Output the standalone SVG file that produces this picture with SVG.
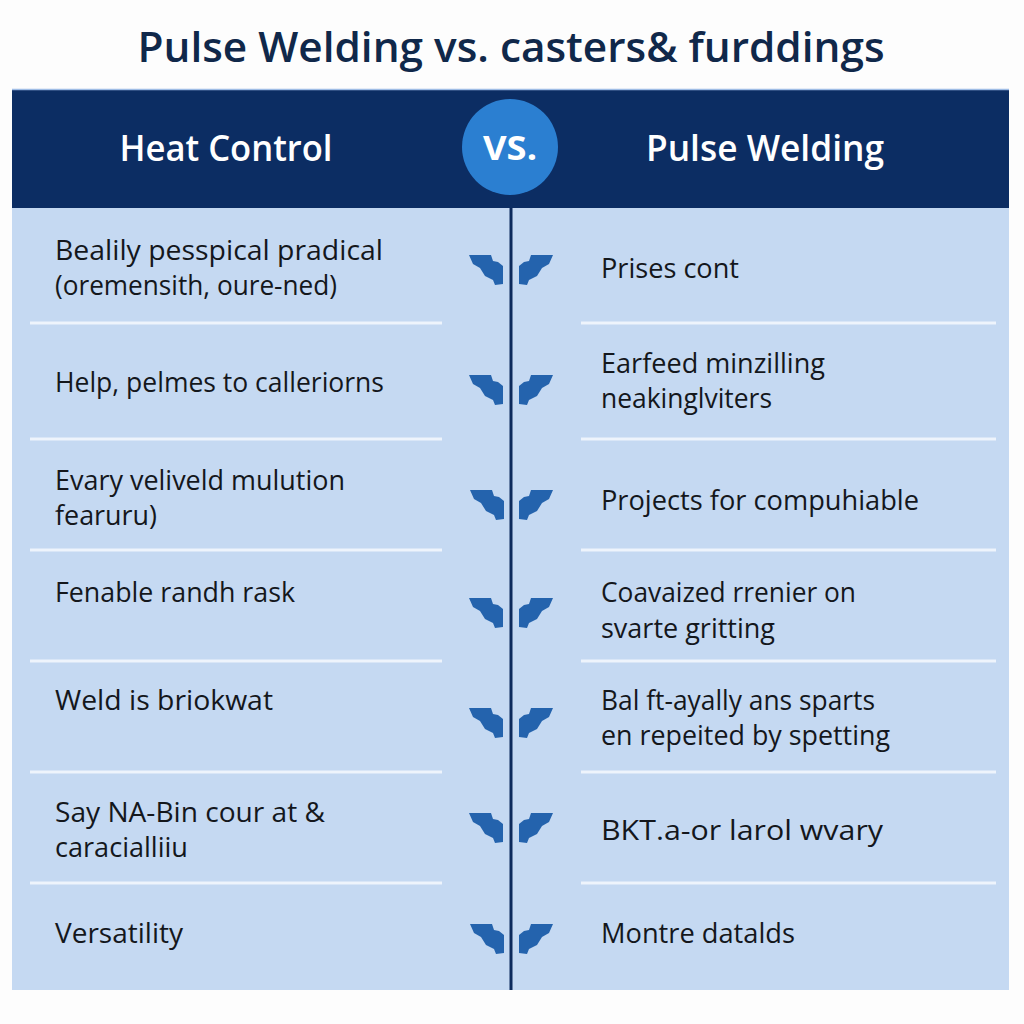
<svg xmlns="http://www.w3.org/2000/svg" xmlns:xlink="http://www.w3.org/1999/xlink" width="1024" height="1024" viewBox="0 0 1024 1024">
  <style>
    .title { font-family: "Open Sans", "Noto Sans", "Liberation Sans", sans-serif; font-size: 42px; font-weight: 600; fill: #10284a; }
    .head { font-family: "Open Sans", "Noto Sans", "Liberation Sans", sans-serif; font-size: 36px; font-weight: 600; fill: #ffffff; }
    .vs { font-family: "Open Sans", "Noto Sans", "Liberation Sans", sans-serif; font-size: 34px; font-weight: 700; fill: #ffffff; }
    .cell { font-family: "Open Sans", "Noto Sans", "Liberation Sans", sans-serif; font-size: 27px; fill: #14171c; }
    .sep { stroke: #eef4fc; stroke-width: 3; }
    .icon { fill: #2463ad; }
  </style>
  <defs>
    <path id="arrL" d="M0,0 L22,0 L24,6 L29,7 L34,11 L34,29 L26,30 L24,25 L16,21 L11,13 L4,9 Z"/>
  </defs>
  <rect x="0" y="0" width="1024" height="1024" fill="#fdfdfd"/>
  <text class="title" x="511" y="62" text-anchor="middle" textLength="747" lengthAdjust="spacingAndGlyphs">Pulse Welding vs. casters&amp; furddings</text>

  <g id="table">
    <rect x="12" y="89" width="997" height="119" fill="#0c2d63"/>
    <line x1="12" y1="89.5" x2="1009" y2="89.5" stroke="#9fbde6" stroke-width="1.5"/>
    <rect x="12" y="208" width="997" height="782" fill="#c5d9f2"/>
  </g>

  <g id="header-left"><text class="head" x="226" y="161" text-anchor="middle" textLength="213" lengthAdjust="spacingAndGlyphs">Heat Control</text></g>
  <g id="header-right"><text class="head" x="765" y="161" text-anchor="middle" textLength="238" lengthAdjust="spacingAndGlyphs">Pulse Welding</text></g>

  <g id="connectors">
    <line x1="511" y1="208" x2="511" y2="990" stroke="#0d2a5c" stroke-width="3"/>
    <g class="sep">
      <line x1="30" y1="323" x2="442" y2="323"/><line x1="581" y1="323" x2="996" y2="323"/>
      <line x1="30" y1="439" x2="442" y2="439"/><line x1="581" y1="439" x2="996" y2="439"/>
      <line x1="30" y1="550" x2="442" y2="550"/><line x1="581" y1="550" x2="996" y2="550"/>
      <line x1="30" y1="661" x2="442" y2="661"/><line x1="581" y1="661" x2="996" y2="661"/>
      <line x1="30" y1="772" x2="442" y2="772"/><line x1="581" y1="772" x2="996" y2="772"/>
      <line x1="30" y1="883" x2="442" y2="883"/><line x1="581" y1="883" x2="996" y2="883"/>
    </g>
    <g class="icon">
      <use xlink:href="#arrL" transform="translate(469,255)"/>
      <use xlink:href="#arrL" transform="translate(553,255) scale(-1,1)"/>
      <use xlink:href="#arrL" transform="translate(469,375)"/>
      <use xlink:href="#arrL" transform="translate(553,375) scale(-1,1)"/>
      <use xlink:href="#arrL" transform="translate(470,490)"/>
      <use xlink:href="#arrL" transform="translate(553,490) scale(-1,1)"/>
      <use xlink:href="#arrL" transform="translate(469,598)"/>
      <use xlink:href="#arrL" transform="translate(553,598) scale(-1,1)"/>
      <use xlink:href="#arrL" transform="translate(469,708)"/>
      <use xlink:href="#arrL" transform="translate(553,708) scale(-1,1)"/>
      <use xlink:href="#arrL" transform="translate(469,813)"/>
      <use xlink:href="#arrL" transform="translate(553,813) scale(-1,1)"/>
      <use xlink:href="#arrL" transform="translate(470,924)"/>
      <use xlink:href="#arrL" transform="translate(553,924) scale(-1,1)"/>
    </g>
  </g>

  <g id="vs-badge">
    <circle cx="510" cy="147" r="48" fill="#2b7fd1"/>
    <text class="vs" x="510" y="160" text-anchor="middle" textLength="54" lengthAdjust="spacingAndGlyphs">VS.</text>
  </g>

  <g id="row1-left"><text class="cell" x="55" y="260" textLength="328" lengthAdjust="spacingAndGlyphs">Bealily pesspical pradical</text><text class="cell" x="55" y="295" textLength="282" lengthAdjust="spacingAndGlyphs">(oremensith, oure-ned)</text></g>
  <g id="row1-right"><text class="cell" x="601" y="278" textLength="138" lengthAdjust="spacingAndGlyphs">Prises cont</text></g>
  <g id="row2-left"><text class="cell" x="55" y="392" textLength="329" lengthAdjust="spacingAndGlyphs">Help, pelmes to calleriorns</text></g>
  <g id="row2-right"><text class="cell" x="601" y="373" textLength="224" lengthAdjust="spacingAndGlyphs">Earfeed minzilling</text><text class="cell" x="601" y="408" textLength="171" lengthAdjust="spacingAndGlyphs">neakinglviters</text></g>
  <g id="row3-left"><text class="cell" x="55" y="490" textLength="290" lengthAdjust="spacingAndGlyphs">Evary veliveld mulution</text><text class="cell" x="55" y="525" textLength="102" lengthAdjust="spacingAndGlyphs">fearuru)</text></g>
  <g id="row3-right"><text class="cell" x="601" y="510" textLength="318" lengthAdjust="spacingAndGlyphs">Projects for compuhiable</text></g>
  <g id="row4-left"><text class="cell" x="55" y="602" textLength="240" lengthAdjust="spacingAndGlyphs">Fenable randh rask</text></g>
  <g id="row4-right"><text class="cell" x="601" y="602" textLength="255" lengthAdjust="spacingAndGlyphs">Coavaized rrenier on</text><text class="cell" x="601" y="638" textLength="174" lengthAdjust="spacingAndGlyphs">svarte gritting</text></g>
  <g id="row5-left"><text class="cell" x="55" y="710" textLength="218" lengthAdjust="spacingAndGlyphs">Weld is briokwat</text></g>
  <g id="row5-right"><text class="cell" x="601" y="710" textLength="274" lengthAdjust="spacingAndGlyphs">Bal ft-ayally ans sparts</text><text class="cell" x="601" y="745" textLength="289" lengthAdjust="spacingAndGlyphs">en repeited by spetting</text></g>
  <g id="row6-left"><text class="cell" x="55" y="822" textLength="270" lengthAdjust="spacingAndGlyphs">Say NA-Bin cour at &amp;</text><text class="cell" x="55" y="857" textLength="133" lengthAdjust="spacingAndGlyphs">caracialliiu</text></g>
  <g id="row6-right"><text class="cell" x="601" y="840" textLength="282" lengthAdjust="spacingAndGlyphs">BKT.a-or larol wvary</text></g>
  <g id="row7-left"><text class="cell" x="55" y="943" textLength="128" lengthAdjust="spacingAndGlyphs">Versatility</text></g>
  <g id="row7-right"><text class="cell" x="601" y="943" textLength="194" lengthAdjust="spacingAndGlyphs">Montre datalds</text></g>
</svg>
